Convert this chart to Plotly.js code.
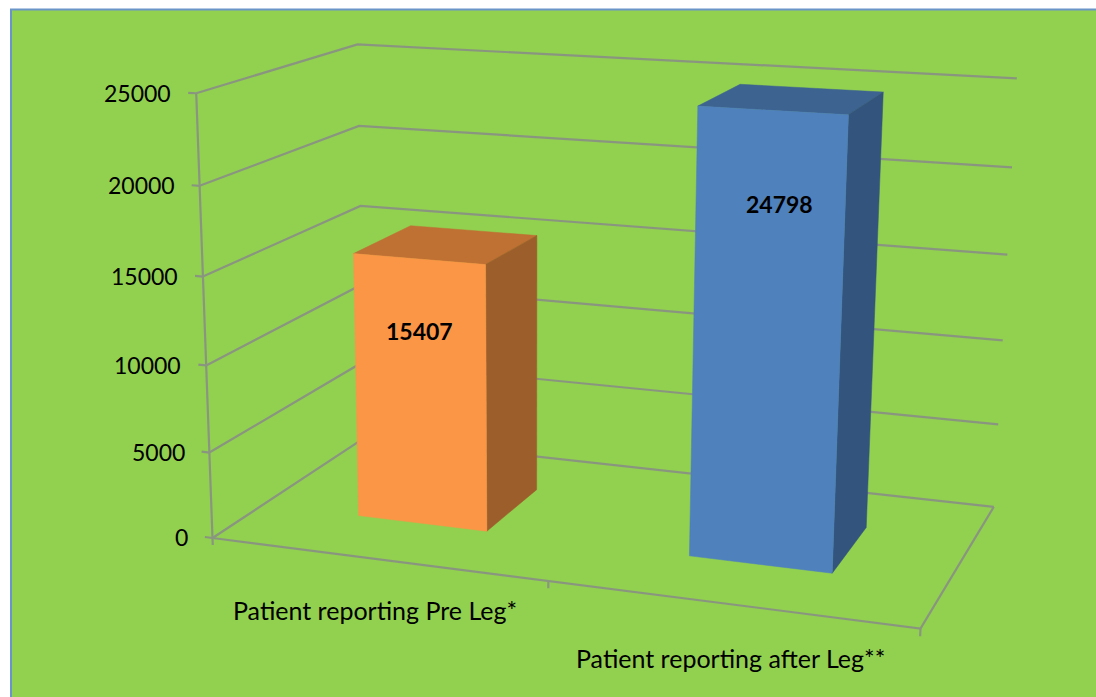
<!DOCTYPE html>
<html>
<head>
<meta charset="utf-8">
<script src="https://cdn.plot.ly/plotly-3.0.1.min.js"></script>
<style>html,body{margin:0;padding:0;background:#fff;overflow:hidden}#chart{width:1096px;height:697px}</style>
</head>
<body>
<div id="chart"></div>
<script>
// ---- chart data ----
const categories = ['Patient reporting Pre Leg*', 'Patient reporting after Leg**'];
const values = [15407, 24798];
const barColors = ['#FB9646', '#4F81BD'];
const barTopColors = ['#BF7033', '#3D6391'];
const barSideColors = ['#9C5F2B', '#32547D'];
const yTicks = [0, 5000, 10000, 15000, 20000, 25000];
const yMax = 25000;

// ---- bar extents along the category axis and the depth axis (fractions of the floor) ----
const barStart = [0.151, 0.647];
const barEnd = [0.349, 0.847];
const barDepthFront = 0.31;
const barDepthBack = 0.70;
const valueLabelHeight = [0.735, 0.803];
const valueLabelShift = [0, 10];

// ---- camera: where the frame corners of the 3-D box land on the page ----
const cameraFit = [
  [0, 0, 0, 216, 536], [1, 0, 0, 920, 631], [1, 0, 1, 995, 504], [0, 0, 1, 361, 440],
  [0, 1, 0, 193, 93], [0, 1, 1, 361, 44], [1, 1, 1, 1016, 79]
];

function solve(A, b) {
  const n = b.length, M = A.map((r, i) => r.concat(b[i]));
  for (let c = 0; c < n; c++) {
    let p = c;
    for (let r = c + 1; r < n; r++) if (Math.abs(M[r][c]) > Math.abs(M[p][c])) p = r;
    [M[c], M[p]] = [M[p], M[c]];
    for (let r = 0; r < n; r++) {
      if (r === c) continue;
      const f = M[r][c] / M[c][c];
      for (let k = c; k <= n; k++) M[r][k] -= f * M[c][k];
    }
  }
  return M.map((r, i) => r[n] / r[i]);
}
function fitCamera(pts) {
  const rows = [], rhs = [];
  pts.forEach(([u, v, w, x, y]) => {
    rows.push([u, v, w, 1, 0, 0, 0, 0, -x * u, -x * v, -x * w]); rhs.push(x);
    rows.push([0, 0, 0, 0, u, v, w, 1, -y * u, -y * v, -y * w]); rhs.push(y);
  });
  const n = 11, N = [], t = [];
  for (let i = 0; i < n; i++) {
    N.push([]);
    for (let j = 0; j < n; j++) N[i].push(rows.reduce((s, r) => s + r[i] * r[j], 0));
    t.push(rows.reduce((s, r, k) => s + r[i] * rhs[k], 0));
  }
  return solve(N, t);
}
const cam = fitCamera(cameraFit);
function project(u, value, w) {
  const v = value / yMax;
  const d = cam[8] * u + cam[9] * v + cam[10] * w + 1;
  return [(cam[0] * u + cam[1] * v + cam[2] * w + cam[3]) / d,
          (cam[4] * u + cam[5] * v + cam[6] * w + cam[7]) / d];
}

const gridColor = '#8A9580';
function linesTrace(segments, color, width) {
  const x = [], y = [];
  segments.forEach(seg => {
    seg.forEach(p => { const q = project(p[0], p[1], p[2]); x.push(q[0]); y.push(q[1]); });
    x.push(null); y.push(null);
  });
  return { type: 'scatter', mode: 'lines', x, y, line: { color, width }, hoverinfo: 'skip', showlegend: false };
}
function faceTrace(corners, color) {
  const pts = corners.concat([corners[0]]).map(p => project(p[0], p[1], p[2]));
  return { type: 'scatter', mode: 'lines', x: pts.map(p => p[0]), y: pts.map(p => p[1]),
           fill: 'toself', fillcolor: color, line: { color, width: 0.5 }, hoverinfo: 'skip', showlegend: false };
}

const traces = [];
const wallLines = [];
yTicks.forEach(t => {
  wallLines.push([[0, t, 0], [0, t, 1], [1, t, 1]]);
  wallLines.push([[-0.012, t, 0], [0, t, 0]]);
});
wallLines.push([[0, 0, 0], [0, yMax, 0]]);
wallLines.push([[0, 0, 0], [1, 0, 0], [1, 0, 1]]);
[0, 0.5, 1].forEach(u => wallLines.push([[u, 0, 0], [u, -420, 0]]));
traces.push(linesTrace(wallLines, gridColor, 2.2));

values.forEach((val, i) => {
  const a = barStart[i], b = barEnd[i], f = barDepthFront, k = barDepthBack;
  traces.push(faceTrace([[a, val, f], [b, val, f], [b, val, k], [a, val, k]], barTopColors[i]));
  traces.push(faceTrace([[b, 0, f], [b, val, f], [b, val, k], [b, 0, k]], barSideColors[i]));
  traces.push(faceTrace([[a, 0, f], [b, 0, f], [b, val, f], [a, val, f]], barColors[i]));
});

const font = { family: 'Lato, Carlito, sans-serif', size: 23, color: '#000000' };
const catFont = { family: 'Lato, Carlito, sans-serif', size: 25, color: '#000000' };
const annotations = [];
yTicks.forEach(t => {
  const q = project(-0.012, t, 0);
  annotations.push({ x: q[0], y: q[1], xref: 'x', yref: 'y', text: String(t), showarrow: false,
    xanchor: 'right', yanchor: 'middle', xshift: -15, font });
});
const catCentre = [0.25, 0.75], catShiftX = [-1, 1], catShiftY = [-51, -54];
categories.forEach((c, i) => {
  const q = project(catCentre[i], 0, 0);
  annotations.push({ x: q[0], y: q[1], xref: 'x', yref: 'y', text: c, showarrow: false,
    xanchor: 'center', yanchor: 'middle', xshift: catShiftX[i], yshift: catShiftY[i], font: catFont });
});
values.forEach((val, i) => {
  const q = project((barStart[i] + barEnd[i]) / 2, val * valueLabelHeight[i], barDepthFront);
  annotations.push({ x: q[0], y: q[1], xref: 'x', yref: 'y', text: '<b>' + val + '</b>', showarrow: false,
    xanchor: 'center', yanchor: 'middle', xshift: valueLabelShift[i], font });
});

const layout = {
  width: 1096, height: 697, margin: { l: 0, r: 0, t: 0, b: 0 },
  paper_bgcolor: '#FFFFFF', plot_bgcolor: 'rgba(0,0,0,0)', showlegend: false,
  xaxis: { range: [0, 1096], visible: false, fixedrange: true },
  yaxis: { range: [697, 0], visible: false, fixedrange: true },
  shapes: [{ type: 'rect', xref: 'x', yref: 'y', x0: 11, y0: 9.5, x1: 1110, y1: 710,
    fillcolor: '#92D050', line: { color: '#6A95C9', width: 2 }, layer: 'below' }],
  annotations
};
Plotly.newPlot('chart', traces, layout, { displayModeBar: false, staticPlot: true });
</script>
</body>
</html>
